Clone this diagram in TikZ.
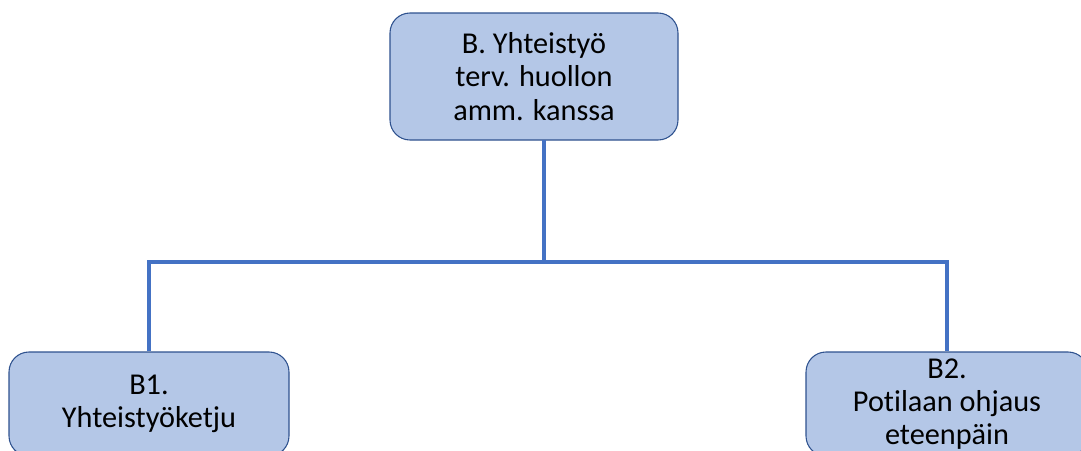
\documentclass[tikz,border=0pt]{standalone}
\usepackage{fontspec}
\setmainfont[Ligatures={NoCommon}]{Carlito}
\definecolor{boxfill}{HTML}{B4C7E7}
\definecolor{boxline}{HTML}{2F528F}
\definecolor{conncol}{HTML}{4472C4}
\begin{document}
\begin{tikzpicture}[x=0.75pt,y=-0.75pt,
  orgbox/.style={draw=boxline, line width=0.8pt, fill=boxfill, rounded corners=15pt,
    align=center, font=\fontsize{22.7}{25}\selectfont, inner sep=0pt},
  conn/.style={draw=conncol, line width=3pt, line join=miter}]
\clip (0,0) rectangle (1081,450);
\useasboundingbox (0,0) rectangle (1081,450);
\fill[white] (0,0) rectangle (1081,450);
\node[orgbox, minimum width=216pt, minimum height=95.25pt] (top) at (534,76.5)
  {B. Yhteistyö\\terv. huollon\\amm. kanssa};
\node[orgbox, minimum width=210pt, minimum height=78pt] (b1) at (149,404)
  {B1.\\Yhteistyöketju};
\node[orgbox, minimum width=211.5pt, minimum height=78pt] (b2) at (947,404)
  {B2.\\Potilaan ohjaus\\eteenpäin};
\coordinate (tb) at (544,140);
\coordinate (j) at (544,262);
\draw[conn] (tb) -- (j);
\draw[conn] (b1.north) |- (j) -| (b2.north);
\end{tikzpicture}
\end{document}
